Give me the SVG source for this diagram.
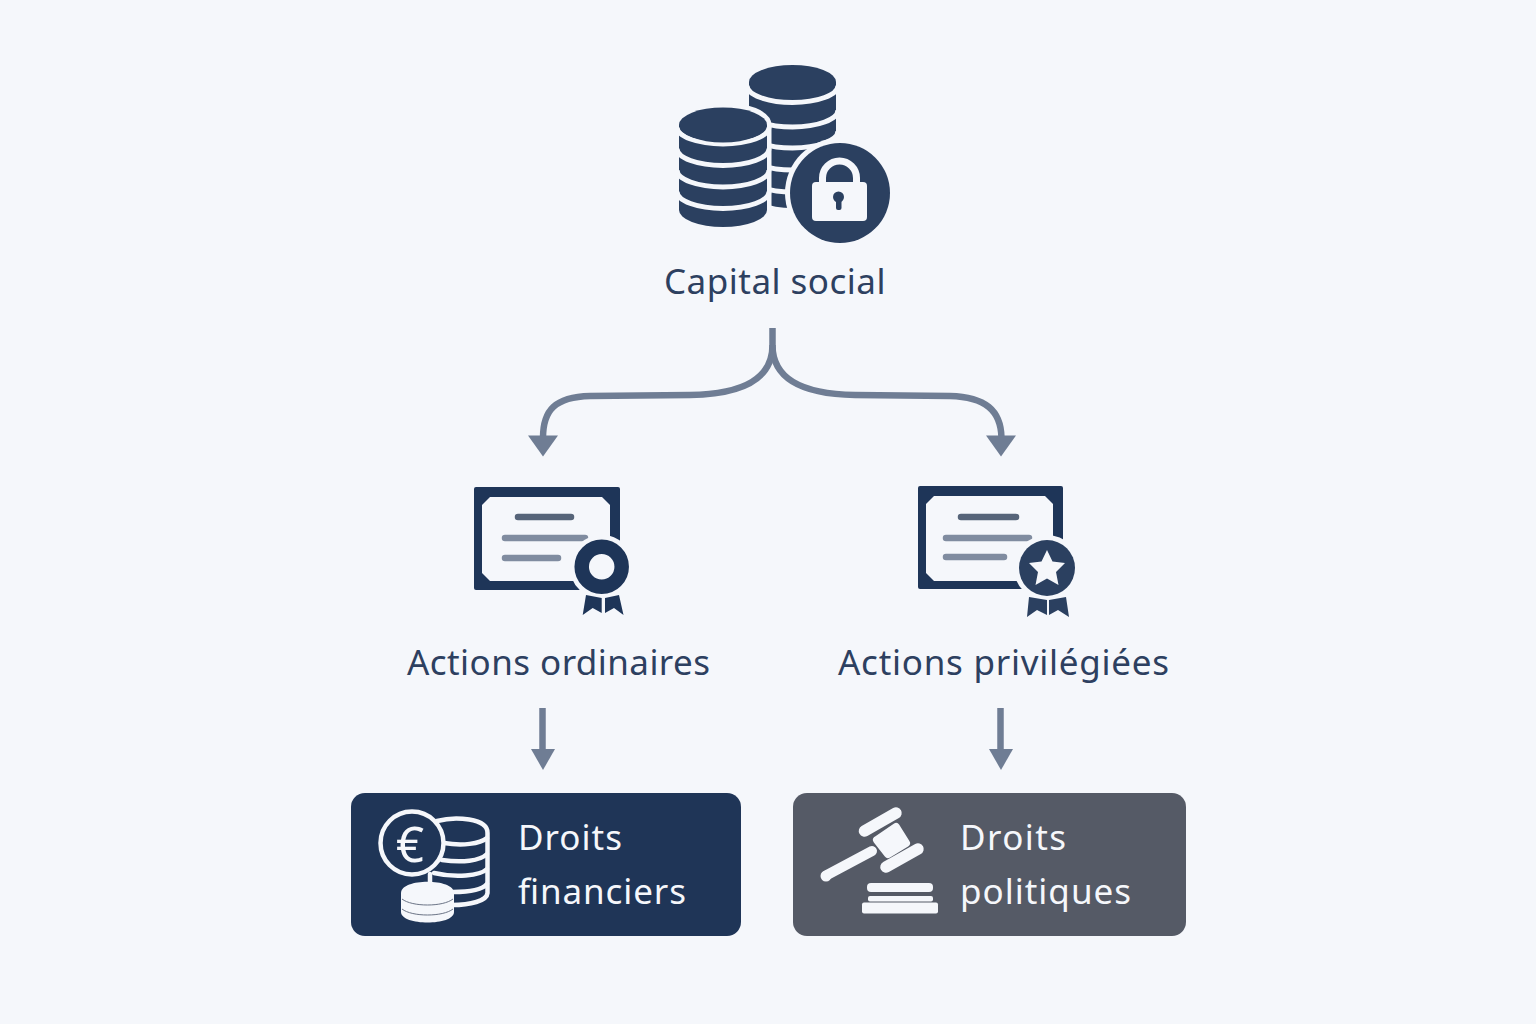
<svg xmlns="http://www.w3.org/2000/svg" width="1536" height="1024" viewBox="0 0 1536 1024">
<style>
text{font-family:"Noto Sans","Open Sans",sans-serif;font-size:35px}
.lab{fill:#2d4060}
.wt{fill:#f5f7fb}
.d{fill:#2b4060}
.sep{fill:none;stroke:#f5f7fb;stroke-width:5}
.frame{fill:#1e3558}
.paper{fill:#f5f7fb}
.l1{stroke:#566479;stroke-width:6.500;stroke-linecap:round;fill:none}
.l2{stroke:#808ca0;stroke-width:6.500;stroke-linecap:round;fill:none}
.conn{fill:none;stroke:#6f7d94;stroke-width:6.500}
.head{fill:#6f7d94}
.ws{fill:none;stroke:#f5f7fb;stroke-width:4.500;stroke-linecap:round}
.wf{fill:#f5f7fb}
</style>
<rect width="1536" height="1024" fill="#f5f7fb"/>
<g id="connectors">
<path class="conn" d="M772.500 328V345C772.500 378 745 394 690 395L590 396C555 397 543 410 543 438"/>
<path class="conn" d="M772.500 345C772.500 378 800 394 855 395L950 396C985 397 1001 410 1001.500 438"/>
<polygon class="head" points="528,435.500 558,435.500 543,456.500"/>
<polygon class="head" points="986,435.500 1016,435.500 1001,456.500"/>
<path class="conn" d="M542.500 708V752"/>
<polygon class="head" points="531,749 555,749 543,770"/>
<path class="conn" d="M1000.500 708V752"/>
<polygon class="head" points="989,749 1013,749 1001,770"/>
</g>
<g id="capital-social">
<path class="d" d="M749 82H836V191A43.500 17 0 0 1 749 191Z"/>
<path class="sep" d="M747 85.500A45.500 17 0 0 0 838 85.500"/>
<path class="sep" d="M747 110A45.500 17 0 0 0 838 110"/>
<path class="sep" d="M747 131A45.500 17 0 0 0 838 131"/>
<path class="sep" d="M747 153A45.500 17 0 0 0 838 153"/>
<path class="sep" d="M747 175A45.500 17 0 0 0 838 175"/>
<ellipse class="d" cx="792.500" cy="82" rx="43.500" ry="17"/>
<path d="M679 125A44 18 0 0 1 767 125V210A44 17 0 0 1 679 210Z" fill="#f5f7fb" stroke="#f5f7fb" stroke-width="9"/>
<path class="d" d="M679 125H767V210A44 17 0 0 1 679 210Z"/>
<path class="sep" d="M677 127A46 17 0 0 0 769 127"/>
<path class="sep" d="M677 148.500A46 17 0 0 0 769 148.500"/>
<path class="sep" d="M677 170A46 17 0 0 0 769 170"/>
<path class="sep" d="M677 191.500A46 17 0 0 0 769 191.500"/>
<ellipse class="d" cx="723" cy="125" rx="44" ry="17.500"/>
<circle cx="840" cy="193" r="55" fill="#f5f7fb"/>
<circle class="d" cx="840" cy="193" r="50"/>
<path d="M822.500 186V178A17 17 0 0 1 856.500 178V186" fill="none" stroke="#f5f7fb" stroke-width="7"/>
<rect class="wf" x="812" y="182" width="55" height="39" rx="4"/>
<circle class="d" cx="838.500" cy="197" r="5.500"/>
<rect class="d" x="836" y="198" width="5.500" height="12" rx="2"/>
<text class="lab" x="664" y="294" textLength="221.500">Capital social</text>
</g>
<g id="actions-ordinaires">
<rect class="frame" x="474" y="487" width="146" height="103" rx="2"/>
<polygon class="paper" points="490,497 602,497 610,505 610,573 602,581 490,581 482,573 482,505"/>
<path class="l1" d="M518 517H571"/>
<path class="l2" d="M505 538H585M505 558H558"/>
<circle cx="601.700" cy="566.700" r="32" fill="#f5f7fb"/>
<circle cx="601.700" cy="566.700" r="20" fill="none" stroke="#1e3558" stroke-width="14.500"/>
<polygon class="frame" points="586,595 582.700,615 592.700,608 601.700,613 601.700,598"/>
<polygon class="frame" points="605,598 605,613 614,608 623.500,615 619,595"/>
<text class="lab" x="407" y="675" textLength="303">Actions ordinaires</text>
</g>
<g id="actions-privilegiees">
<rect class="frame" x="918" y="486" width="145" height="103" rx="2"/>
<polygon class="paper" points="934,496 1045,496 1053,504 1053,573 1045,581 934,581 926,573 926,504"/>
<path class="l1" d="M961 517H1016"/>
<path class="l2" d="M946 538H1029M946 557H1004"/>
<circle cx="1047" cy="568" r="33" fill="#f5f7fb"/>
<circle class="d" cx="1047" cy="568" r="28"/>
<polygon class="wf" points="1047,550 1052.500,561.500 1065,563 1056,572 1058.500,585 1047,578.500 1035.500,585 1038,572 1029,563 1041.500,561.500"/>
<polygon class="d" points="1029,597 1027,617 1037,610 1047,615 1047,600"/>
<polygon class="d" points="1049,600 1049,615 1058,610 1069,617 1066,597"/>
<text class="lab" x="838" y="675" textLength="331">Actions privilégiées</text>
</g>
<g id="droits-financiers">
<rect x="351" y="793" width="390" height="143" rx="14" fill="#1f3557"/>
<path class="ws" d="M437 821C455 816 488 818 487.500 833V893C487 901 470 905 452 905"/>
<path class="ws" d="M444 843C462 846 480 844 487 838M442 860C462 863 480 861 487 854M434 873C455 878 480 876 487 869M453 892C470 892 482 890 487 884"/>
<circle cx="412" cy="843" r="31.500" fill="#1f3557" stroke="#f5f7fb" stroke-width="4.500"/>
<text class="wt" x="410" y="862" text-anchor="middle" style="font-size:49px">€</text>
<path class="ws" d="M430 874V884"/>
<path class="wf" d="M401 893C401 878 454 878 454 893V912C454 926 401 926 401 912Z"/>
<path d="M402 899C412 907 443 907 453 899M402 909C412 917 443 917 453 909" fill="none" stroke="#6b7486" stroke-width="1"/>
<text class="wt" x="518" y="850" textLength="104">Droits</text>
<text class="wt" x="518" y="904" textLength="168">financiers</text>
</g>
<g id="droits-politiques">
<rect x="793" y="793" width="393" height="143" rx="14" fill="#555a66"/>
<path d="M864.500 831L896 813M886 867L918 849" stroke="#f5f7fb" stroke-width="11.500" stroke-linecap="round"/>
<path class="wf" stroke="#f5f7fb" stroke-width="8" stroke-linejoin="round" d="M877 840L896 827L906 843L888 854Z"/>
<path d="M827 875L872 851" stroke="#f5f7fb" stroke-width="10" stroke-linecap="round"/>
<circle class="wf" cx="826" cy="876" r="5.500"/>
<rect class="wf" x="867" y="883" width="66" height="9" rx="4"/>
<rect class="wf" x="868" y="896" width="65" height="5.500" rx="2"/>
<rect class="wf" x="862" y="902.500" width="76" height="11" rx="2"/>
<text class="wt" x="960" y="850" textLength="106">Droits</text>
<text class="wt" x="960" y="904" textLength="171">politiques</text>
</g>
</svg>
